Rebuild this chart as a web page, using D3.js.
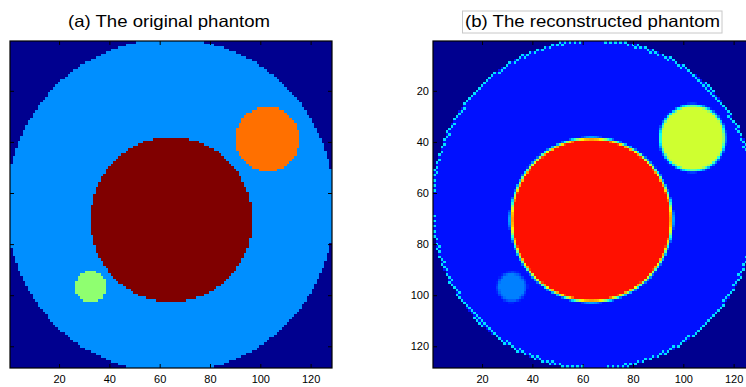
<!DOCTYPE html>
<html>
<head>
<meta charset="utf-8">
<script src="https://cdn.jsdelivr.net/npm/d3@7"></script>
<style>
  body { margin: 0; background: #fff; }
  svg { display: block; font-family: "Liberation Sans", Arial, sans-serif; }
</style>
</head>
<body>
<div id="chart"></div>
<script>
const N = 128;
const tickValues = [20, 40, 60, 80, 100, 120];

// (a) original phantom: discs painted in order over a zero background
const origCx = [64.3, 64.6, 102.9, 32.6];
const origCy = [65.0, 70.4, 38.9, 96.8];
const origR = [65.4, 32.2, 12.7, 6.1];
const origVal = [0.254, 1.0, 0.762, 0.508];

// (b) reconstructed phantom: support disc + the same inserts, soft edges
const reconCx = [64.5, 63.5, 103.7, 31.8];
const reconCy = [64.5, 70.5, 38.5, 96.8];
const reconR = [64.8, 32.0, 12.9, 5.6];
const reconVal = [0.127, 0.857, 0.57, 0.238];
const reconRimVal = 0.33;

const titles = ["(a) The original phantom", "(b) The reconstructed phantom"];

const W = 746, H = 387;
const panels = [
  { x: 10, y: 41, w: 322, h: 327, yLabels: false },
  { x: 433, y: 41, w: 322, h: 327, yLabels: true }
];

// MATLAB jet(64)
const jet = d3.scaleLinear()
  .domain([0, 7 / 63, 23 / 63, 39 / 63, 55 / 63, 1])
  .range(["#00008f", "#0000ff", "#00ffff", "#ffff00", "#ff0000", "#800000"]);

function rasterize(cx, cy, r, val, soft, rim) {
  const grid = [];
  for (let j = 1; j <= N; j++) {
    const row = [];
    for (let i = 1; i <= N; i++) {
      let v = 0;
      for (let k = 0; k < cx.length; k++) {
        const d = Math.hypot(i - cx[k], j - cy[k]);
        let a;
        if (soft && k > 0) a = Math.max(0, Math.min(1, (r[k] - d) / soft + 0.5));
        else a = d <= r[k] ? 1 : 0;
        v = v * (1 - a) + val[k] * a;
      }
      if (rim != null) {
        const d0 = Math.hypot(i - cx[0], j - cy[0]);
        if (d0 > r[0] - 1.2 && d0 <= r[0] + 0.3 && (i + j) % 2 === 0) v = rim;
      }
      row.push(Math.round(v * 63));
    }
    grid.push(row);
  }
  return grid;
}

// merge equal neighbours in a row into one run
function runs(grid) {
  const out = [];
  grid.forEach((row, j) => {
    let start = 0;
    for (let i = 1; i <= N; i++) {
      if (i === N || row[i] !== row[start]) {
        out.push({ row: j + 1, i0: start + 1, i1: i, c: row[start] });
        start = i;
      }
    }
  });
  return out;
}

const grids = [
  rasterize(origCx, origCy, origR, origVal, 0, null),
  rasterize(reconCx, reconCy, reconR, reconVal, 1.6, reconRimVal)
];

const svg = d3.select("#chart")
  .append("svg")
  .attr("width", W)
  .attr("height", H);

panels.forEach((p, n) => {
  const g = svg.append("g").attr("transform", `translate(${p.x}, ${p.y})`);

  const xScale = d3.scaleLinear().domain([0.5, N + 0.5]).range([0, p.w]);
  const yScale = d3.scaleLinear().domain([0.5, N + 0.5]).range([0, p.h]);
  const px = (v) => Math.round(xScale(v));
  const py = (v) => Math.round(yScale(v));

  const img = g.append("g").attr("shape-rendering", "crispEdges");
  img.append("rect")
    .attr("width", p.w)
    .attr("height", p.h)
    .attr("fill", jet(0));

  img.selectAll("rect.cell")
    .data(runs(grids[n]))
    .enter()
    .append("rect")
    .attr("class", "cell")
    .attr("x", (d) => px(d.i0 - 0.5))
    .attr("y", (d) => py(d.row - 0.5))
    .attr("width", (d) => px(d.i1 + 0.5) - px(d.i0 - 0.5))
    .attr("height", (d) => py(d.row + 0.5) - py(d.row - 0.5))
    .attr("fill", (d) => jet(d.c / 63));

  // axes, MATLAB style: ticks inside on all four sides
  const xAxis = d3.axisBottom(xScale).tickValues(tickValues).tickSizeInner(-4).tickSizeOuter(0).tickPadding(7);
  const xTop = d3.axisTop(xScale).tickValues(tickValues).tickSizeInner(-4).tickSizeOuter(0).tickFormat("");
  const yAxis = d3.axisLeft(yScale).tickValues(tickValues).tickSizeInner(-4).tickSizeOuter(0).tickPadding(4);
  if (!p.yLabels) yAxis.tickFormat("");
  const yRight = d3.axisRight(yScale).tickValues(tickValues).tickSizeInner(-4).tickSizeOuter(0).tickFormat("");

  const axes = [
    g.append("g").attr("transform", `translate(0, ${p.h})`).call(xAxis),
    g.append("g").call(xTop),
    g.append("g").call(yAxis),
    g.append("g").attr("transform", `translate(${p.w}, 0)`).call(yRight)
  ];
  axes.forEach((a) => {
    a.select(".domain").remove();
    a.selectAll("line").attr("stroke", "#000");
    a.selectAll("text").attr("fill", "#000").style("font-size", "11px");
  });

  g.append("rect")
    .attr("width", p.w)
    .attr("height", p.h)
    .attr("fill", "none")
    .attr("stroke", "#000")
    .attr("stroke-width", 1.2);
});

// titles
svg.append("text")
  .attr("x", 169)
  .attr("y", 27)
  .attr("text-anchor", "middle")
  .attr("textLength", 202)
  .attr("lengthAdjust", "spacingAndGlyphs")
  .style("font-size", "16.5px")
  .text(titles[0]);

svg.append("rect")
  .attr("x", 462.5)
  .attr("y", 11)
  .attr("width", 259.5)
  .attr("height", 22)
  .attr("fill", "#fff")
  .attr("stroke", "#c8c8c8")
  .attr("stroke-width", 1);

svg.append("text")
  .attr("x", 592.5)
  .attr("y", 27)
  .attr("text-anchor", "middle")
  .attr("textLength", 255)
  .attr("lengthAdjust", "spacingAndGlyphs")
  .style("font-size", "16.5px")
  .text(titles[1]);
</script>
</body>
</html>
